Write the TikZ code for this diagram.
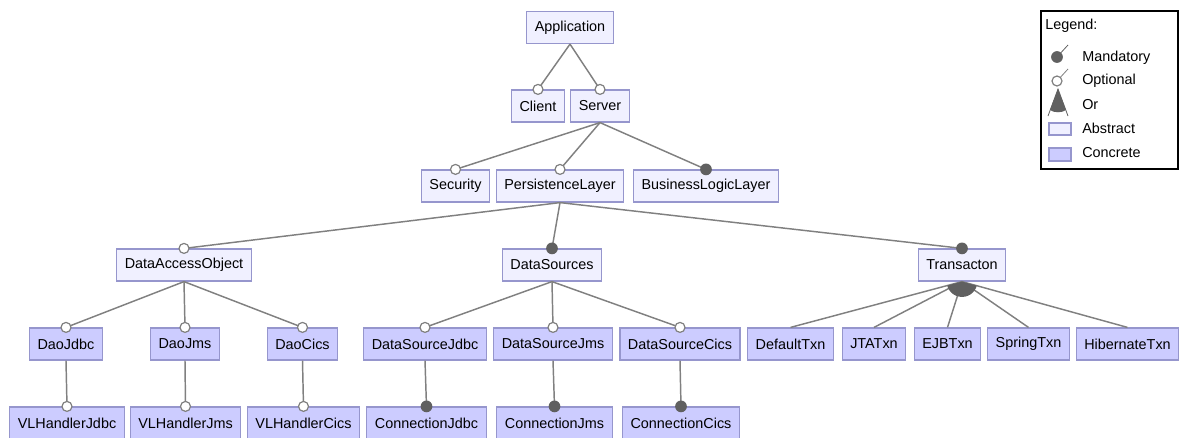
\documentclass[tikz,border=0pt]{standalone}
\usepackage{fontspec}
\setmainfont{Liberation Sans}
\usepackage{tikz}
\usetikzlibrary{positioning,calc}
\definecolor{AbstractFill}{RGB}{240,240,255}
\definecolor{ConcreteFill}{RGB}{204,204,255}
\definecolor{BoxBorder}{RGB}{150,150,205}
\definecolor{EdgeGray}{RGB}{128,128,128}
\definecolor{DotGray}{RGB}{96,96,96}

\tikzset{
  feat/.style={draw=BoxBorder, line width=0.9pt, minimum height=24pt, inner xsep=6pt, inner ysep=0pt, font=\fontsize{10.8}{13}\selectfont},
  abstract/.style={feat, fill=AbstractFill},
  concrete/.style={feat, fill=ConcreteFill},
  link/.style={draw=EdgeGray, line width=1.1pt},
  optdot/.style={draw=EdgeGray, fill=white, line width=0.9pt},
  mandot/.style={fill=DotGray},
  legtext/.style={anchor=west, inner sep=0pt, font=\fontsize{10.8}{13}\selectfont}
}

\begin{document}
\begin{tikzpicture}[x=0.75pt, y=-0.75pt]
        \useasboundingbox (0,0) rectangle (1179,437);
        % feature tree
        \node[abstract] (app) at (570,27.5) {Application};
        \node[abstract] (client) at (538,106) {Client};
        \node[abstract] (server) at (600,106) {Server};
        \node[abstract] (security) at (455.5,186) {Security};
        \node[abstract] (persist) at (560,186) {PersistenceLayer};
        \node[abstract] (logic) at (706,186) {BusinessLogicLayer};
        \node[abstract] (dao) at (184,265) {DataAccessObject};
        \node[abstract] (sources) at (552,265) {DataSources};
        \node[abstract] (txn) at (962,265) {Transacton};
        \node[concrete] (daoJdbc) at (66,344) {DaoJdbc};
        \node[concrete] (daoJms) at (185,344) {DaoJms};
        \node[concrete] (daoCics) at (302.5,344) {DaoCics};
        \node[concrete] (dsJdbc) at (425,344) {DataSourceJdbc};
        \node[concrete] (dsJms) at (553,344) {DataSourceJms};
        \node[concrete] (dsCics) at (680,344) {DataSourceCics};
        \node[concrete] (txDefault) at (790.5,344) {DefaultTxn};
        \node[concrete] (txJta) at (874,344) {JTATxn};
        \node[concrete] (txEjb) at (947.5,344) {EJBTxn};
        \node[concrete] (txSpring) at (1028.5,344) {SpringTxn};
        \node[concrete] (txHibernate) at (1127.5,344) {HibernateTxn};
        \node[concrete] (vlJdbc) at (67,423) {VLHandlerJdbc};
        \node[concrete] (vlJms) at (185.5,423) {VLHandlerJms};
        \node[concrete] (vlCics) at (303.5,423) {VLHandlerCics};
        \node[concrete] (conJdbc) at (426.5,423) {ConnectionJdbc};
        \node[concrete] (conJms) at (554.5,423) {ConnectionJms};
        \node[concrete] (conCics) at (681,423) {ConnectionCics};

        % links
        \draw[link] (app.south)--(client.north); \draw[link] (app.south)--(server.north);
        \draw[link] (server.south)--(security.north); \draw[link] (server.south)--(persist.north);
        \draw[link] (server.south)--(logic.north);
        \draw[link] (persist.south)--(dao.north); \draw[link] (persist.south)--(sources.north);
        \draw[link] (persist.south)--(txn.north);
        \draw[link] (dao.south)--(daoJdbc.north); \draw[link] (dao.south)--(daoJms.north);
        \draw[link] (dao.south)--(daoCics.north);
        \draw[link] (sources.south)--(dsJdbc.north); \draw[link] (sources.south)--(dsJms.north);
        \draw[link] (sources.south)--(dsCics.north);
        \draw[link] (txn.south)--(txDefault.north); \draw[link] (txn.south)--(txJta.north);
        \draw[link] (txn.south)--(txEjb.north); \draw[link] (txn.south)--(txSpring.north);
        \draw[link] (txn.south)--(txHibernate.north);
        \draw[link] (daoJdbc.south)--(vlJdbc.north); \draw[link] (daoJms.south)--(vlJms.north);
        \draw[link] (daoCics.south)--(vlCics.north);
        \draw[link] (dsJdbc.south)--(conJdbc.north); \draw[link] (dsJms.south)--(conJms.north);
        \draw[link] (dsCics.south)--(conCics.north);

        % or group
        \begin{scope}
          \clip (txn.south) -- ($(txn.south)!0.5!(txDefault.north)$) -- ($(txn.south)!0.5!(txHibernate.north)$) -- cycle;
          \fill[DotGray] (txn.south) circle[radius=11.5pt];
        \end{scope}

        % optional / mandatory ends
        \filldraw[optdot] (client.north) circle[radius=3.75pt];
        \filldraw[optdot] (server.north) circle[radius=3.75pt];
        \filldraw[optdot] (security.north) circle[radius=3.75pt];
        \filldraw[optdot] (persist.north) circle[radius=3.75pt];
        \fill[mandot] (logic.north) circle[radius=4.4pt];
        \filldraw[optdot] (dao.north) circle[radius=3.75pt];
        \fill[mandot] (sources.north) circle[radius=4.4pt];
        \fill[mandot] (txn.north) circle[radius=4.4pt];
        \filldraw[optdot] (daoJdbc.north) circle[radius=3.75pt];
        \filldraw[optdot] (daoJms.north) circle[radius=3.75pt];
        \filldraw[optdot] (daoCics.north) circle[radius=3.75pt];
        \filldraw[optdot] (dsJdbc.north) circle[radius=3.75pt];
        \filldraw[optdot] (dsJms.north) circle[radius=3.75pt];
        \filldraw[optdot] (dsCics.north) circle[radius=3.75pt];
        \filldraw[optdot] (vlJdbc.north) circle[radius=3.75pt];
        \filldraw[optdot] (vlJms.north) circle[radius=3.75pt];
        \filldraw[optdot] (vlCics.north) circle[radius=3.75pt];
        \fill[mandot] (conJdbc.north) circle[radius=4.4pt];
        \fill[mandot] (conJms.north) circle[radius=4.4pt];
        \fill[mandot] (conCics.north) circle[radius=4.4pt];

        % legend
        \draw[black, line width=0.9pt] (1041,11) rectangle (1178,169);
        \node[legtext] (lgTitle) at (1045,26) {Legend:};
        \node[legtext] (lgMand) at (1082,58) {Mandatory};
        \node[legtext] (lgOpt) at (1082,81) {Optional};
        \node[legtext] (lgOr) at (1082,105) {Or};
        \node[legtext] (lgAbs) at (1082,128) {Abstract};
        \node[legtext] (lgCon) at (1082,153) {Concrete};
        \draw[DotGray, line width=0.6pt] (1057,57)--(1068,45);
        \fill[mandot] (1057,57) circle[radius=4.4pt];
        \draw[EdgeGray, line width=0.6pt] (1057,81)--(1068,69);
        \filldraw[optdot] (1057,81) circle[radius=3.75pt];
        \draw[DotGray, line width=0.6pt] (1048,116)--(1058,89)--(1068,116);
        \fill[DotGray] (1058,89)--(1050,110) .. controls (1054,113) and (1062,113) .. (1066,110)--cycle;
        \draw[BoxBorder, fill=AbstractFill, line width=0.8pt] (1049,123) rectangle (1071,135);
        \draw[BoxBorder, fill=ConcreteFill, line width=0.8pt] (1049,148) rectangle (1071,161);
      \end{tikzpicture}
\end{document}
